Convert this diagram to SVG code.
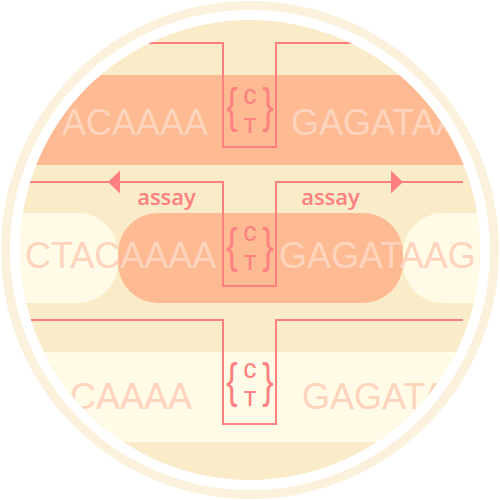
<svg xmlns="http://www.w3.org/2000/svg" width="500" height="500" viewBox="0 0 500 500">
<style>
.seq{font-family:"Liberation Sans",Arial,sans-serif;font-size:36px;fill:#ffd4bd}
.var{font-family:Roboto,"Liberation Sans",sans-serif;font-weight:500;font-size:20px;fill:#fe8080;text-anchor:middle}
.brace{font-family:"Liberation Sans",Arial,sans-serif;font-size:34px;fill:#fe8080;text-anchor:middle}
.lbl{font-family:"Open Sans","Liberation Sans",sans-serif;font-weight:600;font-size:22px;fill:#fe8080;text-anchor:middle}
.wire{fill:none;stroke:#fe8080;stroke-width:2}
.tan{fill:#faebc9}.sal{fill:#feba92}.pale{fill:#fffbe6}
</style>
<defs>
<clipPath id="disc"><circle cx="250" cy="250" r="230"/></clipPath>
</defs>
<rect width="500" height="500" fill="#ffffff"/>
<circle cx="250" cy="250" r="244.5" fill="none" stroke="#fbf1dc" stroke-width="9"/>
<g clip-path="url(#disc)">
<rect class="tan" x="0" y="0" width="500" height="500"/>
<g id="row1">
<rect class="sal" x="0" y="75" width="500" height="90"/>
<text class="seq" x="62" y="135">ACAAAA</text>
<text class="seq" x="291" y="135">GAGATAA</text>
<text class="brace" transform="translate(232,122) scale(1,1.4)">{</text>
<text class="brace" transform="translate(268,122) scale(1,1.4)">}</text>
<text class="var" x="250" y="103.5">C</text>
<text class="var" x="250" y="132.5">T</text>
</g>
<g id="row2">
<rect class="pale" x="-100" y="213" width="218" height="90" rx="40"/>
<rect class="sal" x="118" y="213" width="285" height="90" rx="40"/>
<rect class="pale" x="403" y="213" width="200" height="90" rx="40"/>
<text class="seq" x="25" y="268">CTACAAAA</text>
<text class="seq" x="279" y="268">GAGATAAG</text>
<text class="brace" transform="translate(232,262) scale(1,1.4)">{</text>
<text class="brace" transform="translate(268,262) scale(1,1.4)">}</text>
<text class="var" x="250" y="240.5">C</text>
<text class="var" x="250" y="269.5">T</text>
</g>
<g id="row3">
<rect class="pale" x="0" y="352" width="500" height="90"/>
<text class="seq" x="70" y="409">CAAAA</text>
<text class="seq" x="302" y="409">GAGATA</text>
<text class="brace" transform="translate(232,397) scale(1,1.4)">{</text>
<text class="brace" transform="translate(268,397) scale(1,1.4)">}</text>
<text class="var" x="250" y="377.5">C</text>
<text class="var" x="250" y="405.5">T</text>
</g>
<g id="connectors">
<path class="wire" d="M30,43 H223 V147 H276 V43 H463"/>
<path class="wire" d="M30,182 H223 V286 H276 V182 H463"/>
<path class="wire" d="M30,320 H223 V424 H276 V320 H463"/>
<polygon fill="#fe8080" points="108,182 120,170.5 120,193.5"/>
<polygon fill="#fe8080" points="403,182 391,170.5 391,193.5"/>
<text class="lbl" x="166.5" y="205">assay</text>
<text class="lbl" x="330.5" y="205">assay</text>
</g>
</g>
</svg>
